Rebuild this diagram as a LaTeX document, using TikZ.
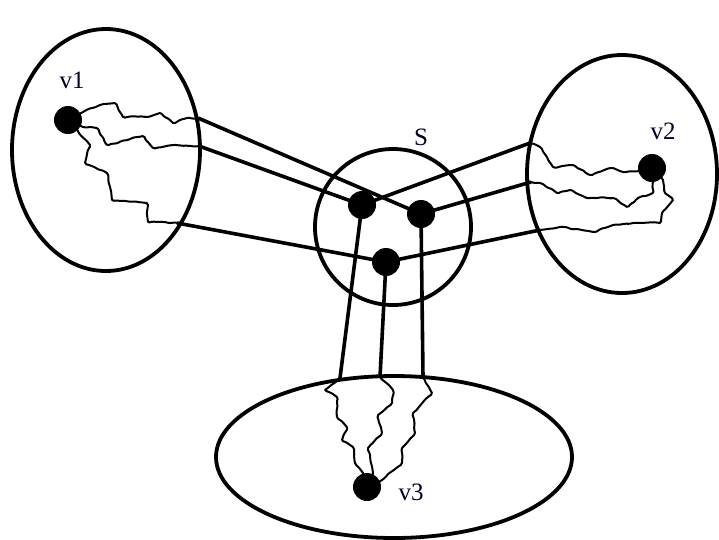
\documentclass[tikz,border=0pt]{standalone}
\usepackage{fontspec}
\setmainfont{Liberation Serif}
\usetikzlibrary{shapes.geometric,decorations.pathmorphing}
\begin{document}
\begin{tikzpicture}[x=1pt,y=-1pt,
  region/.style={draw,line width=3.8pt,ellipse,inner sep=0pt},
  dot/.style={circle,fill=black,inner sep=0pt,minimum size=28pt},
  bar/.style={line width=3.6pt},
  wig/.style={line width=2pt,line join=round,rounded corners=1.5pt,
     decorate,decoration={random steps,segment length=3.5pt,amplitude=0.8pt}},
  lab/.style={font=\fontsize{25}{30}\selectfont,text=black!85!blue}]
\pgfmathsetseed{7}
\useasboundingbox (0,0) rectangle (719,539);
% regions
\node[region,minimum width=188pt,minimum height=242pt] (R1) at (106,150) {};
\node[region,minimum width=190pt,minimum height=238pt] (R2) at (622,174) {};
\node[region,minimum width=356pt,minimum height=162pt] (R3) at (394,457) {};
\node[region,circle,minimum size=156pt] (S) at (393,227) {};
% dots
\node[dot] (v1) at (68,120) {};
\node[dot] (v2) at (652,168) {};
\node[dot] (v3) at (367,487) {};
\node[dot] (a) at (362,205) {};
\node[dot] (b) at (421,214) {};
\node[dot] (c) at (386,262) {};
% labels
\node[lab] (l1) at (72,80) {v1};
\node[lab] (l2) at (663,131) {v2};
\node[lab] (l3) at (411,492) {v3};
\node[lab] (lS) at (421,137) {S};
% boundary points
\coordinate (p1) at (198,118);
\coordinate (p2) at (199,146);
\coordinate (p3) at (177,223);
\coordinate (q1) at (530,143);
\coordinate (q2) at (531,182);
\coordinate (q3) at (540,230);
\coordinate (r1) at (340,378);
\coordinate (r2) at (380,377);
\coordinate (r3) at (423,377);
% straight connectors
\draw[bar] (p1) -- (b.center);
\draw[bar] (p2) -- (a.center);
\draw[bar] (p3) -- (c.center);
\draw[bar] (a.center) -- (q1);
\draw[bar] (b.center) -- (q2);
\draw[bar] (c.center) -- (q3);
\draw[bar] (a.center) -- (r1);
\draw[bar] (c.center) -- (r2);
\draw[bar] (b.center) -- (r3);
% wiggly paths, left
\draw[wig] (v1.center) -- (83,112) -- (100,105) -- (115,103) -- (123,117) -- (147,117) -- (160,113) -- (173,123) -- (187,118) -- (p1);
\draw[wig] (v1.center) -- (83,127) -- (97,128) -- (107,145) -- (143,136) -- (153,148) -- (173,145) -- (p2);
\draw[wig] (v1.center) -- (90,145) -- (85,163) -- (107,173) -- (112,200) -- (147,203) -- (148,222) -- (p3);
% wiggly paths, right
\draw[wig] (q1) -- (540,147) -- (553,167) -- (573,165) -- (590,175) -- (610,168) -- (623,172) -- (640,171) -- (v2.center);
\draw[wig] (q2) -- (540,183) -- (557,193) -- (570,190) -- (587,198) -- (613,198) -- (627,207) -- (640,197) -- (653,193) -- (v2.center);
\draw[wig] (q3) -- (560,227) -- (593,232) -- (613,225) -- (633,223) -- (660,223) -- (662,213) -- (673,200) -- (665,193) -- (663,180) -- (v2.center);
% wiggly paths, bottom
\draw[wig] (r1) -- (325,390) -- (337,397) -- (337,417) -- (347,427) -- (342,440) -- (353,447) -- (355,463) -- (363,473) -- (v3.center);
\draw[wig] (r2) -- (393,390) -- (392,403) -- (378,415) -- (382,433) -- (368,448) -- (373,473) -- (v3.center);
\draw[wig] (r3) -- (432,393) -- (413,413) -- (415,433) -- (402,448) -- (402,463) -- (382,480) -- (v3.center);
\end{tikzpicture}
\end{document}
